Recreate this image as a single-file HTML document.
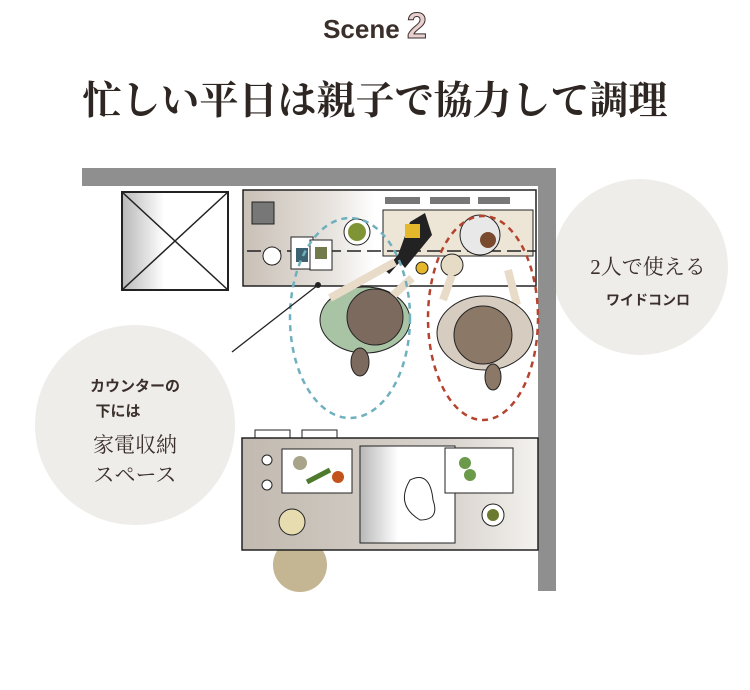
<!DOCTYPE html>
<html><head><meta charset="utf-8"><style>
html,body{margin:0;padding:0;background:#fff;width:750px;height:690px;overflow:hidden}
svg{display:block}
</style></head><body>
<svg width="750" height="690" viewBox="0 0 750 690" xmlns="http://www.w3.org/2000/svg">
<defs>
<linearGradient id="cg" x1="0" x2="1" y1="0" y2="0">
<stop offset="0" stop-color="#c9c0b6"/><stop offset="0.3" stop-color="#e7e3de"/><stop offset="0.45" stop-color="#fff"/><stop offset="1" stop-color="#fff"/></linearGradient>
<linearGradient id="lg" x1="0" x2="1"><stop offset="0" stop-color="#c2bab0"/><stop offset="0.7" stop-color="#d8d3cd"/><stop offset="1" stop-color="#f4f2ef"/></linearGradient>
<linearGradient id="sg" x1="0" x2="1"><stop offset="0" stop-color="#b8b8b8"/><stop offset="0.4" stop-color="#fff"/><stop offset="1" stop-color="#fff"/></linearGradient>
</defs>
<text x="375" y="38" text-anchor="middle" font-family="Liberation Sans,sans-serif" font-weight="bold" font-size="26" fill="#3a2f2a">Scene <tspan font-size="36" fill="#e8cfd0" stroke="#3a2f2a" stroke-width="1">2</tspan></text>
<text x="375" y="114" text-anchor="middle" font-family="Liberation Serif,'Noto Serif CJK SC',serif" font-weight="bold" font-size="39" fill="#2e2622">忙しい平日は親子で協力して調理</text>
<circle cx="640" cy="267" r="88" fill="#efedea"/>
<circle cx="135" cy="425" r="100" fill="#efedea"/>
<rect x="82" y="168" width="474" height="18" fill="#8f8f8f"/>
<rect x="538" y="168" width="18" height="423" fill="#8f8f8f"/>
<rect x="122" y="192" width="106" height="98" fill="url(#sg)" stroke="#222" stroke-width="2"/>
<line x1="122" y1="192" x2="228" y2="290" stroke="#222" stroke-width="1.5"/><line x1="228" y1="192" x2="122" y2="290" stroke="#222" stroke-width="1.5"/>
<rect x="243" y="190" width="293" height="96" fill="url(#cg)" stroke="#222" stroke-width="1.5"/>
<rect x="383" y="210" width="150" height="46" fill="#ede6d6" stroke="#222" stroke-width="1"/>
<rect x="385" y="197" width="35" height="7" fill="#777"/><rect x="430" y="197" width="40" height="7" fill="#777"/><rect x="478" y="197" width="32" height="7" fill="#777"/>
<line x1="247" y1="251" x2="536" y2="251" stroke="#222" stroke-width="1.5" stroke-dasharray="14 6"/>
<rect x="252" y="202" width="22" height="22" fill="#777" stroke="#222"/>
<circle cx="357" cy="232" r="13" fill="#fff" stroke="#222"/><circle cx="357" cy="232" r="9" fill="#7f9535"/>
<path d="M397 258 L410 222 L425 213 L432 235 L405 268 Z" fill="#222"/><rect x="405" y="224" width="15" height="14" fill="#e5b82b"/>
<path d="M387 272 L402 255" stroke="#222" stroke-width="6"/>
<circle cx="480" cy="235" r="20" fill="#e8e8e8" stroke="#222"/><circle cx="488" cy="240" r="8" fill="#7a4a2e"/>
<circle cx="452" cy="265" r="11" fill="#e6dcc6" stroke="#222"/><circle cx="422" cy="268" r="6" fill="#e5b82b" stroke="#222"/>
<rect x="291" y="237" width="22" height="32" fill="#fff" stroke="#222"/><rect x="310" y="240" width="22" height="30" fill="#fff" stroke="#222"/>
<rect x="296" y="248" width="12" height="14" fill="#3d6370"/><rect x="315" y="247" width="12" height="12" fill="#707a4a"/>
<circle cx="272" cy="256" r="9" fill="#fff" stroke="#222"/>
<ellipse cx="365" cy="320" rx="45" ry="33" fill="#a9c4a4" stroke="#222"/>
<path d="M330 298 L395 262 M388 300 L412 278" stroke="#e8dcc9" stroke-width="8"/>
<circle cx="375" cy="317" r="28" fill="#7d6a5e" stroke="#222"/>
<ellipse cx="360" cy="362" rx="9" ry="14" fill="#7d6a5e" stroke="#222"/>
<path d="M443 300 L452 275 M517 305 L508 270" stroke="#e8dcc9" stroke-width="8"/>
<ellipse cx="485" cy="333" rx="48" ry="37" fill="#d6ccc0" stroke="#222"/>
<circle cx="483" cy="335" r="29" fill="#8c7866" stroke="#222"/>
<ellipse cx="493" cy="377" rx="8" ry="13" fill="#8c7866" stroke="#222"/>
<ellipse cx="350" cy="318" rx="60" ry="100" fill="none" stroke="#6fb0bf" stroke-width="2.5" stroke-dasharray="6 5"/>
<ellipse cx="483" cy="318" rx="55" ry="102" fill="none" stroke="#b5432f" stroke-width="2.5" stroke-dasharray="6 5"/>
<line x1="318" y1="285" x2="232" y2="352" stroke="#222" stroke-width="1.3"/><circle cx="318" cy="285" r="3" fill="#222"/>
<rect x="255" y="430" width="35" height="8" fill="#fff" stroke="#222"/><rect x="302" y="430" width="35" height="8" fill="#fff" stroke="#222"/>
<circle cx="300" cy="565" r="27" fill="#c4b593"/>
<rect x="242" y="438" width="296" height="112" fill="url(#lg)" stroke="#222" stroke-width="1.5"/>
<rect x="360" y="446" width="95" height="97" fill="url(#sg)" stroke="#222"/>
<rect x="445" y="448" width="68" height="45" fill="#fff" stroke="#222"/>
<rect x="282" y="449" width="70" height="44" fill="#fff" stroke="#222"/>
<circle cx="300" cy="463" r="7" fill="#a8a48a"/><circle cx="338" cy="477" r="6" fill="#c4521c"/><path d="M307 482 L330 470" stroke="#4e7a2e" stroke-width="5"/>
<circle cx="465" cy="463" r="6" fill="#6a9a4a"/><circle cx="470" cy="475" r="6" fill="#6a9a4a"/>
<circle cx="292" cy="522" r="13" fill="#e6dcb0" stroke="#222"/>
<circle cx="493" cy="515" r="11" fill="#fff" stroke="#222"/><circle cx="493" cy="515" r="6" fill="#6a7a2e"/>
<circle cx="267" cy="460" r="5" fill="#fff" stroke="#222"/><circle cx="267" cy="485" r="5" fill="#fff" stroke="#222"/>
<path d="M410 480 Q430 470 433 500 Q440 520 420 520 Q395 505 410 480Z" fill="#fff" stroke="#222"/>
<text x="648" y="274" text-anchor="middle" font-family="Liberation Serif,'Noto Serif CJK SC',serif" font-size="21" fill="#3a2f2a">2人で使える</text>
<text x="648" y="305" text-anchor="middle" font-family="Liberation Sans,'Noto Sans CJK JP',sans-serif" font-weight="bold" font-size="14" fill="#3a2f2a">ワイドコンロ</text>
<text x="135" y="391" text-anchor="middle" font-family="Liberation Sans,'Noto Sans CJK JP',sans-serif" font-weight="bold" font-size="15" fill="#3a2f2a">カウンターの</text>
<text x="118" y="416" text-anchor="middle" font-family="Liberation Sans,'Noto Sans CJK JP',sans-serif" font-weight="bold" font-size="15" fill="#3a2f2a">下には</text>
<text x="135" y="452" text-anchor="middle" font-family="Liberation Serif,'Noto Serif CJK SC',serif" font-size="21" fill="#3a2f2a">家電収納</text>
<text x="135" y="482" text-anchor="middle" font-family="Liberation Serif,'Noto Serif CJK SC',serif" font-size="21" fill="#3a2f2a">スペース</text>
</svg>
</body></html>
